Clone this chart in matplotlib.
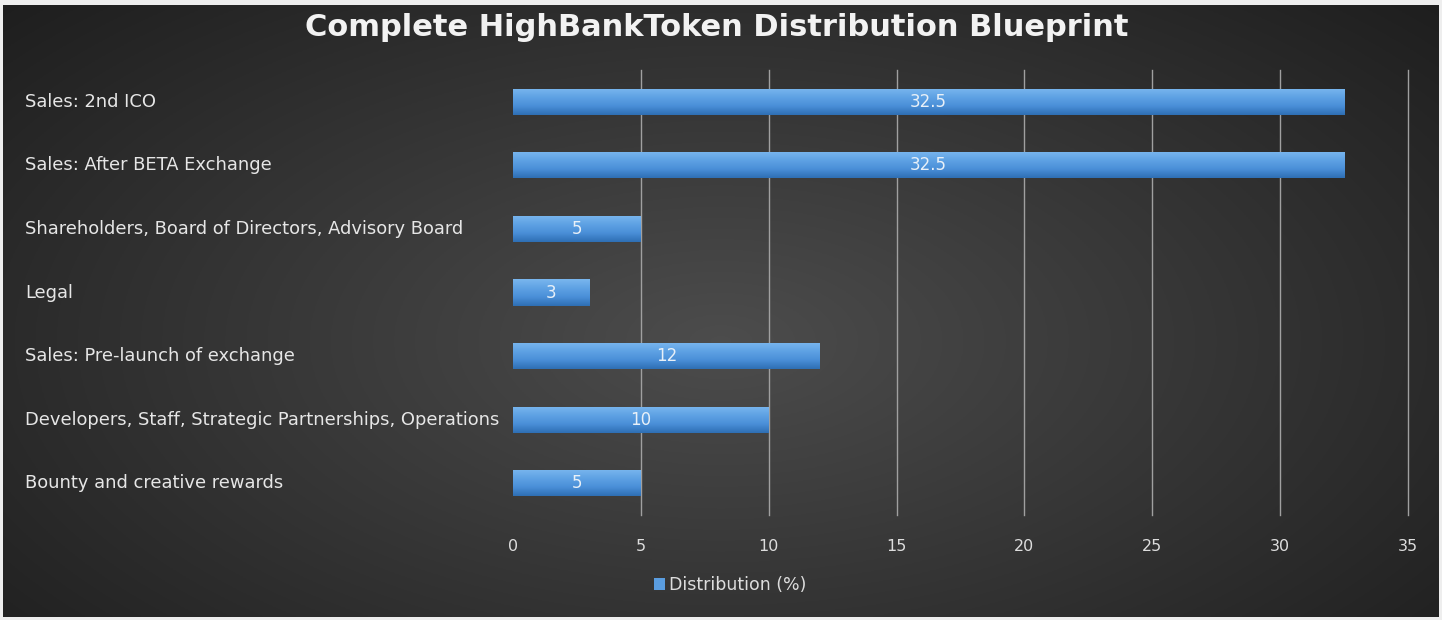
import numpy as np
import matplotlib
matplotlib.use("Agg")
import matplotlib.pyplot as plt
from matplotlib.transforms import blended_transform_factory
from matplotlib.patches import Patch

# Data
categories = [
    "Sales: 2nd ICO",
    "Sales: After BETA Exchange",
    "Shareholders, Board of Directors, Advisory Board",
    "Legal",
    "Sales: Pre-launch of exchange",
    "Developers, Staff, Strategic Partnerships, Operations",
    "Bounty and creative rewards",
]
distribution = [32.5, 32.5, 5, 3, 12, 10, 5]
x_ticks = [0, 5, 10, 15, 20, 25, 30, 35]
title = "Complete HighBankToken Distribution Blueprint"
series_name = "Distribution (%)"

plt.rcParams["font.family"] = ["DejaVu Sans"]

W, H = 1442, 620
fig = plt.figure(figsize=(W / 100, H / 100), dpi=100)
fig.patch.set_facecolor("#eeeeee")

# Dark radial gradient background
bg = fig.add_axes([3 / W, 3 / H, 1 - 6 / W, 1 - 8 / H])
bg.set_axis_off()
yy, xx = np.mgrid[0:1:300j, 0:1:700j]
r = np.sqrt(((xx - 0.5) / 0.75) ** 2 + ((yy - 0.55) / 0.9) ** 2)
shade = np.clip(0.30 - 0.20 * r, 0.12, 0.30)
bg.imshow(np.dstack([shade] * 3), aspect="auto", extent=[0, 1, 0, 1])

ax = fig.add_axes([513 / W, 1 - 515 / H, 895 / W, 445 / H])
ax.patch.set_alpha(0)
y = np.arange(len(categories))
bars = ax.barh(y, distribution, height=0.41, color="#4f93da", edgecolor="none", zorder=3)

# vertical gradient inside each bar
grad = np.linspace(0, 1, 64).reshape(-1, 1)
cmap = matplotlib.colors.LinearSegmentedColormap.from_list(
    "bar", ["#79b6ee", "#5fa2e4", "#4a8fd8", "#2f6fb4"]
)
for b in bars:
    bx, by = b.get_x(), b.get_y()
    bw, bh = b.get_width(), b.get_height()
    im = ax.imshow(grad, cmap=cmap, aspect="auto", extent=[bx, bx + bw, by + bh, by],
                   zorder=3)
    im.set_clip_path(b)

for yi, v in zip(y, distribution):
    ax.text(v / 2, yi, f"{v:g}", ha="center", va="center", color="#e8f0f8",
            fontsize=12, zorder=4)

ax.set_xlim(0, 35)
ax.set_ylim(len(categories) - 0.5, -0.5)
ax.set_xticks(x_ticks)
ax.set_xticklabels([str(t) for t in x_ticks], color="#dddddd", fontsize=11.5)
ax.tick_params(axis="x", length=0, pad=17)
ax.set_yticks([])
for s in ax.spines.values():
    s.set_visible(False)
for t in x_ticks[1:]:
    ax.axvline(t, color="#a0a0a0", lw=1.0, zorder=1, clip_on=False)

trans = blended_transform_factory(fig.transFigure, ax.transData)
for yi, name in zip(y, categories):
    ax.text(25 / W, yi, name, transform=trans, ha="left", va="center",
            color="#e6e6e6", fontsize=12.9)

fig.text(0.497, 1 - 27 / H, title, ha="center", va="center", color="#f2f2f2",
         fontsize=22, fontweight="bold")

fig.legend(handles=[Patch(facecolor="#5a9de0", edgecolor="none")], labels=[series_name],
           loc="center", bbox_to_anchor=(730 / W, 1 - 585 / H), frameon=False,
           labelcolor="#dddddd", fontsize=12.5, handlelength=0.65, handleheight=0.65,
           handletextpad=0.2)

fig.savefig("out.png", dpi=100, facecolor=fig.get_facecolor())
